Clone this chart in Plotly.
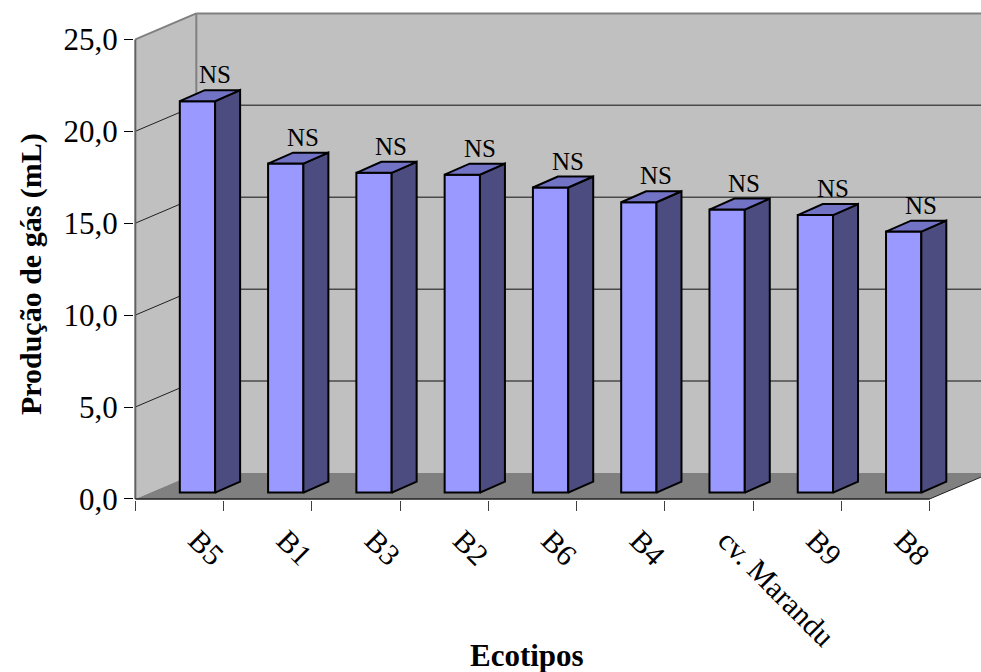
import plotly.graph_objects as go

# ---- data ----
categories = ["B5", "B1", "B3", "B2", "B6", "B4", "cv. Marandu", "B9", "B8"]
values = [21.3, 17.9, 17.4, 17.3, 16.6, 15.8, 15.4, 15.1, 14.2]
bar_labels = ["NS"] * len(categories)
y_ticks = [0, 5, 10, 15, 20, 25]

# ---- 3D geometry (data units) ----
DX, DY = 0.691, 1.413          # full depth of the chart (front -> back wall)
BAR_SHIFT, BAR_W, BAR_BASE = 0.204, 0.40, 0.342
BDX, BDY = 0.283, 0.598         # bar depth
X0 = -0.5
X1 = len(categories) - 0.5
XMAX = 9.08
YMAX = 25

FONT = "Liberation Serif, Times New Roman, serif"
FRONT = "#9999FF"
TOP = "#7373C6"
SIDE = "#4C4C80"
WALL = "#C0C0C0"
FLOOR = "#808080"

fig = go.Figure()

shapes = []
# back wall
shapes.append(dict(type="rect", xref="x", yref="y", x0=X0 + DX, x1=XMAX + 0.5,
                   y0=DY, y1=YMAX + DY, fillcolor=WALL, line=dict(width=0), layer="below"))
# left wall
shapes.append(dict(type="path", xref="x", yref="y",
                   path=f"M {X0},0 L {X0+DX},{DY} L {X0+DX},{YMAX+DY} L {X0},{YMAX} Z",
                   fillcolor=WALL, line=dict(width=0), layer="below"))
# floor
shapes.append(dict(type="path", xref="x", yref="y",
                   path=f"M {X0},0 L {X1},0 L {X1+DX},{DY} L {X0+DX},{DY} Z",
                   fillcolor=FLOOR, line=dict(width=0), layer="below"))
# gridlines on back wall and left wall
for v in y_ticks[1:-1]:
    shapes.append(dict(type="line", xref="x", yref="y", x0=X0 + DX, x1=XMAX + 0.5,
                       y0=v + DY, y1=v + DY, line=dict(color="#4a4a4a", width=1.5), layer="below"))
    shapes.append(dict(type="line", xref="x", yref="y", x0=X0, x1=X0 + DX,
                       y0=v, y1=v + DY, line=dict(color="#202020", width=1), layer="below"))
# wall edges
shapes.append(dict(type="line", xref="x", yref="y", x0=X0 + DX, x1=XMAX + 0.5,
                   y0=YMAX + DY, y1=YMAX + DY, line=dict(color="#808080", width=2), layer="below"))
shapes.append(dict(type="line", xref="x", yref="y", x0=X0 + DX, x1=X0 + DX,
                   y0=DY, y1=YMAX + DY, line=dict(color="#808080", width=2), layer="below"))
shapes.append(dict(type="line", xref="x", yref="y", x0=X0, x1=X0 + DX,
                   y0=YMAX, y1=YMAX + DY, line=dict(color="#808080", width=2), layer="below"))
# axes lines
shapes.append(dict(type="line", xref="x", yref="y", x0=X0, x1=X0,
                   y0=0, y1=YMAX, line=dict(color="#606060", width=2), layer="below"))
shapes.append(dict(type="line", xref="x", yref="y", x0=X0, x1=X1,
                   y0=0, y1=0, line=dict(color="#202020", width=1.5), layer="below"))
shapes.append(dict(type="line", xref="x", yref="y", x0=X1, x1=X1 + DX,
                   y0=0, y1=DY, line=dict(color="#202020", width=1), layer="below"))

xpos = list(range(len(categories)))

# front faces
fig.add_trace(go.Bar(
    x=[i + BAR_SHIFT for i in xpos], y=values, base=BAR_BASE, width=BAR_W,
    marker=dict(color=FRONT, line=dict(color="black", width=2)),
    hoverinfo="skip", showlegend=False))

# top and side faces
for i, v in zip(xpos, values):
    xl = i + BAR_SHIFT - BAR_W / 2
    xr = xl + BAR_W
    yb = BAR_BASE
    yt = BAR_BASE + v
    fig.add_trace(go.Scatter(
        x=[xr, xr + BDX, xr + BDX, xr, xr], y=[yb, yb + BDY, yt + BDY, yt, yb],
        mode="lines", fill="toself", fillcolor=SIDE,
        line=dict(color="black", width=2), hoverinfo="skip", showlegend=False))
    fig.add_trace(go.Scatter(
        x=[xl, xr, xr + BDX, xl + BDX, xl], y=[yt, yt, yt + BDY, yt + BDY, yt],
        mode="lines", fill="toself", fillcolor=TOP,
        line=dict(color="black", width=2), hoverinfo="skip", showlegend=False))

annotations = []
for i, v, t in zip(xpos, values, bar_labels):
    annotations.append(dict(x=i + 0.40, y=BAR_BASE + v + BDY, xref="x", yref="y",
                            text=t, showarrow=False, xanchor="center", yanchor="bottom",
                            font=dict(family=FONT, size=25, color="black")))

annotations.append(dict(x=-0.1216, y=0.461, xref="paper", yref="paper",
                        text="<b>Produção de gás (mL)</b>", textangle=-90, showarrow=False,
                        xanchor="center", yanchor="middle",
                        font=dict(family=FONT, size=30, color="black")))
annotations.append(dict(x=0.464, y=-0.318, xref="paper", yref="paper",
                        text="<b>Ecotipos</b>", showarrow=False,
                        xanchor="center", yanchor="middle",
                        font=dict(family=FONT, size=31, color="black")))

fig.update_layout(
    width=981, height=672,
    margin=dict(l=134, r=0, t=9.6, b=171.9, autoexpand=False),
    paper_bgcolor="white", plot_bgcolor="white",
    separators=",.",
    showlegend=False,
    shapes=shapes, annotations=annotations,
    xaxis=dict(range=[-0.515, XMAX], tickmode="array", tickvals=[i + 0.2 for i in xpos],
               ticktext=categories, ticklabelstandoff=16,
               tickangle=45, ticks="", showgrid=False, zeroline=False, showline=False,
               tickfont=dict(family=FONT, size=30, color="black"),
               minor=dict(tickmode="array", tickvals=[X0 + k for k in range(len(categories) + 1)],
                          ticks="outside", ticklen=10, tickcolor="#404040", tickwidth=1,
                          showgrid=False)),
    yaxis=dict(range=[-0.06, 26.6], tickmode="array", tickvals=y_ticks, tickformat=".1f",
               ticks="outside", ticklen=9, tickcolor="black", tickwidth=1,
               showgrid=False, zeroline=False, showline=False,
               tickfont=dict(family=FONT, size=31, color="black")),
)

fig.write_html("out.html", config={"displayModeBar": False},
               post_script="document.body.style.margin='0px';document.body.style.overflow='hidden';")
